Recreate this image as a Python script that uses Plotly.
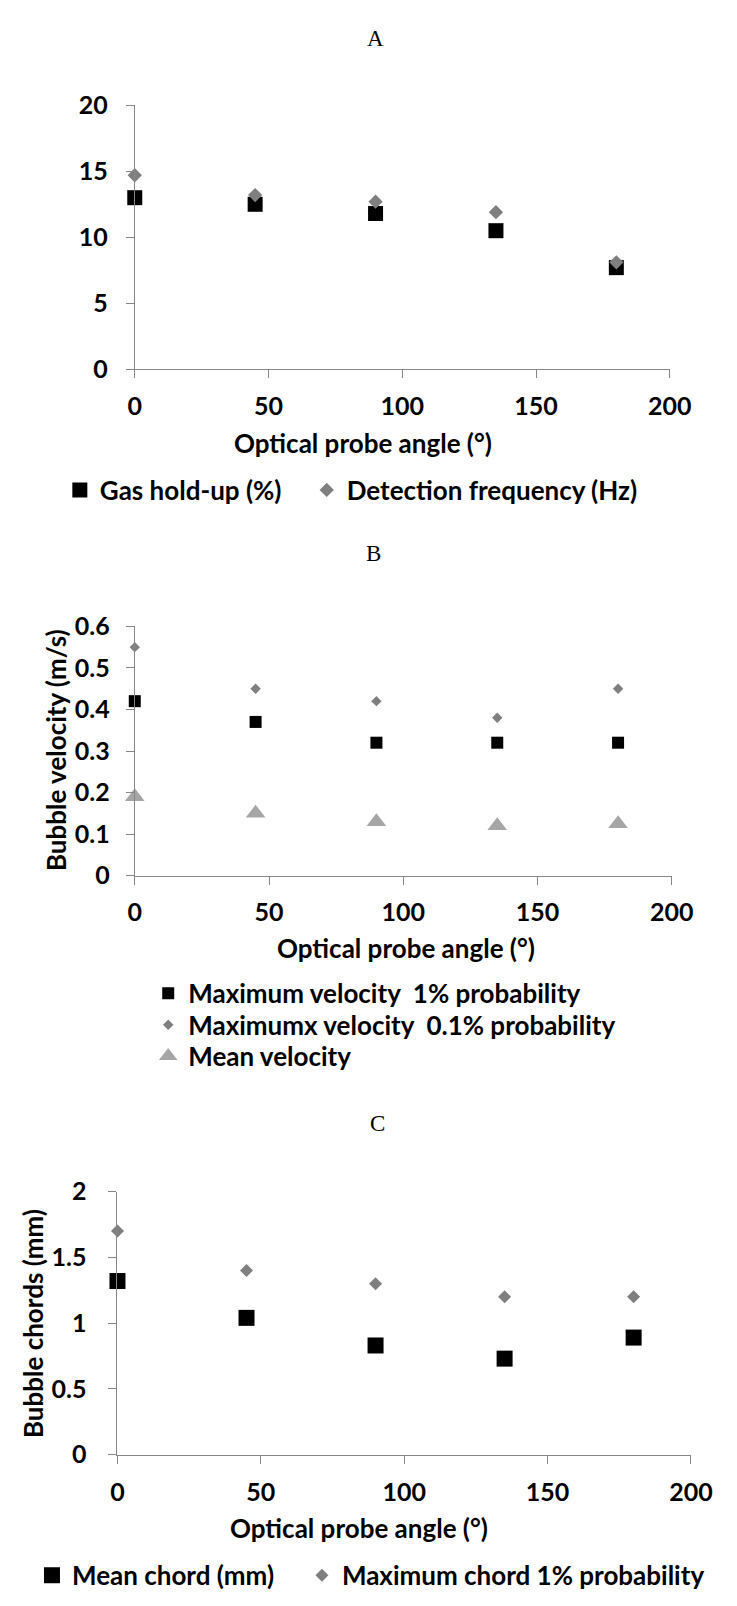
import plotly.graph_objects as go

# ---------------- data ----------------
angles = [0, 45, 90, 135, 180]

# Chart A
gas_holdup = [13.0, 12.5, 11.8, 10.5, 7.7]
detection_freq = [14.7, 13.2, 12.7, 11.9, 8.1]

# Chart B
vel_max_1pct = [0.42, 0.37, 0.32, 0.32, 0.32]
vel_max_01pct = [0.55, 0.45, 0.42, 0.38, 0.45]
vel_mean = [0.19, 0.15, 0.13, 0.12, 0.125]

# Chart C
chord_mean = [1.32, 1.04, 0.83, 0.73, 0.89]
chord_max_1pct = [1.70, 1.40, 1.30, 1.20, 1.20]

# labels
panel_titles = ["A", "B", "C"]
x_title = "Optical probe angle (°)"
y_title_b = "Bubble velocity (m/s)"
y_title_c = "Bubble chords (mm)"
names_a = ["Gas hold-up (%)", "Detection frequency (Hz)"]
names_b = ["Maximum velocity  1% probability", "Maximumx velocity  0.1% probability", "Mean velocity"]
names_c = ["Mean chord (mm)", "Maximum chord 1% probability"]

# ---------------- layout helpers ----------------
W, H = 737, 1606
def px_x(p):
    return p / W
def px_y(p):
    return 1 - p / H

BLACK = "#000000"
GRAY = "#7f7f7f"
LGRAY = "#a6a6a6"
AXIS = "#878787"
SANS = "Lato"
SERIF = "Liberation Serif"

fig = go.Figure()

# Chart A
fig.add_trace(go.Scatter(x=angles, y=gas_holdup, mode="markers", name=names_a[0],
                         marker=dict(symbol="square", size=15, color=BLACK),
                         xaxis="x", yaxis="y", legend="legend", cliponaxis=False))
fig.add_trace(go.Scatter(x=angles, y=detection_freq, mode="markers", name=names_a[1],
                         marker=dict(symbol="diamond", size=11, color=GRAY),
                         xaxis="x", yaxis="y", legend="legend4", cliponaxis=False))
# Chart B
fig.add_trace(go.Scatter(x=angles, y=vel_max_1pct, mode="markers", name=names_b[0],
                         marker=dict(symbol="square", size=12, color=BLACK),
                         xaxis="x2", yaxis="y2", legend="legend2", cliponaxis=False))
fig.add_trace(go.Scatter(x=angles, y=vel_max_01pct, mode="markers", name=names_b[1],
                         marker=dict(symbol="diamond", size=8, color=GRAY),
                         xaxis="x2", yaxis="y2", legend="legend6", cliponaxis=False))
fig.add_trace(go.Scatter(x=angles, y=vel_mean, mode="markers", name=names_b[2],
                         marker=dict(symbol="triangle-up", size=17, color=LGRAY),
                         xaxis="x2", yaxis="y2", legend="legend7", cliponaxis=False))
# Chart C
fig.add_trace(go.Scatter(x=angles, y=chord_mean, mode="markers", name=names_c[0],
                         marker=dict(symbol="square", size=16, color=BLACK),
                         xaxis="x3", yaxis="y3", legend="legend3", cliponaxis=False))
fig.add_trace(go.Scatter(x=angles, y=chord_max_1pct, mode="markers", name=names_c[1],
                         marker=dict(symbol="diamond", size=10, color=GRAY),
                         xaxis="x3", yaxis="y3", legend="legend5", cliponaxis=False))

tickfont = dict(family=SANS, size=25, color=BLACK, weight="bold")

def xaxis(domain, standoff):
    return dict(domain=domain, range=[0, 200], dtick=50, tick0=0,
                showline=True, linecolor=AXIS, linewidth=1,
                ticks="outside", ticklen=8, tickcolor=AXIS, tickwidth=1,
                showgrid=False, zeroline=False, tickfont=tickfont,
                ticklabelstandoff=standoff, fixedrange=True)

def yaxis(domain, rng, dtick, anchor, standoff):
    return dict(domain=domain, range=rng, dtick=dtick, tick0=0, anchor=anchor,
                showline=True, linecolor=AXIS, linewidth=1,
                ticks="outside", ticklen=8, tickcolor=AXIS, tickwidth=1,
                showgrid=False, zeroline=False, tickfont=tickfont,
                ticklabelstandoff=standoff, fixedrange=True)

legfont = dict(family=SANS, size=26, color=BLACK, weight="bold")

def leg(x, y):
    return dict(orientation="h", x=px_x(x), y=px_y(y), xanchor="left", yanchor="middle",
                font=legfont, bgcolor="rgba(0,0,0,0)", borderwidth=0)

fig.update_layout(
    width=W, height=H, autosize=False,
    margin=dict(l=0, r=0, t=0, b=0),
    paper_bgcolor="white", plot_bgcolor="white",
    showlegend=True,
    xaxis=dict(**xaxis([px_x(133), px_x(690)], 7), anchor="y"),
    yaxis=yaxis([px_y(360), px_y(91)], [0, 20], 5, "x", 13),
    xaxis2=dict(**xaxis([px_x(133), px_x(692)], 6), anchor="y2"),
    yaxis2=yaxis([px_y(876), px_y(622)], [0, 0.6], 0.1, "x2", 11),
    xaxis3=dict(**xaxis([px_x(115), px_x(712)], 7), anchor="y3"),
    yaxis3=yaxis([px_y(1466), px_y(1198)], [0, 2], 0.5, "x3", 17),
    legend=leg(55, 483),
    legend4=leg(312, 483),
    legend2=leg(147, 996),
    legend6=leg(147, 1028),
    legend7=leg(147, 1060),
    legend3=leg(26, 1589),
    legend5=leg(307, 1589),
)

annots = []
# panel titles
for t, cx, cy in zip(panel_titles, [384, 382, 386], [23, 548, 1129]):
    annots.append(dict(text=t, x=px_x(cx), y=px_y(cy), xref="paper", yref="paper",
                       xanchor="center", yanchor="middle", showarrow=False,
                       font=dict(family=SERIF, size=23, color=BLACK)))
# x axis titles
for cx, cy in [(371, 435), (415, 950), (366, 1541)]:
    annots.append(dict(text=x_title, x=px_x(cx), y=px_y(cy), xref="paper", yref="paper",
                       xanchor="center", yanchor="middle", showarrow=False,
                       font=dict(family=SANS, size=26, color=BLACK, weight="bold")))
# y axis titles
annots.append(dict(text=y_title_b, x=px_x(51), y=px_y(748), xref="paper", yref="paper",
                   xanchor="center", yanchor="middle", showarrow=False, textangle=-90,
                   font=dict(family=SANS, size=26, color=BLACK, weight="bold")))
annots.append(dict(text=y_title_c, x=px_x(27), y=px_y(1332), xref="paper", yref="paper",
                   xanchor="center", yanchor="middle", showarrow=False, textangle=-90,
                   font=dict(family=SANS, size=26, color=BLACK, weight="bold")))
fig.update_layout(annotations=annots)

post = ("document.documentElement.style.margin='0';document.body.style.margin='0';"
        "document.documentElement.style.overflow='hidden';document.body.style.overflow='hidden';")
fig.write_html("out.html", post_script=post, config={"displayModeBar": False})
